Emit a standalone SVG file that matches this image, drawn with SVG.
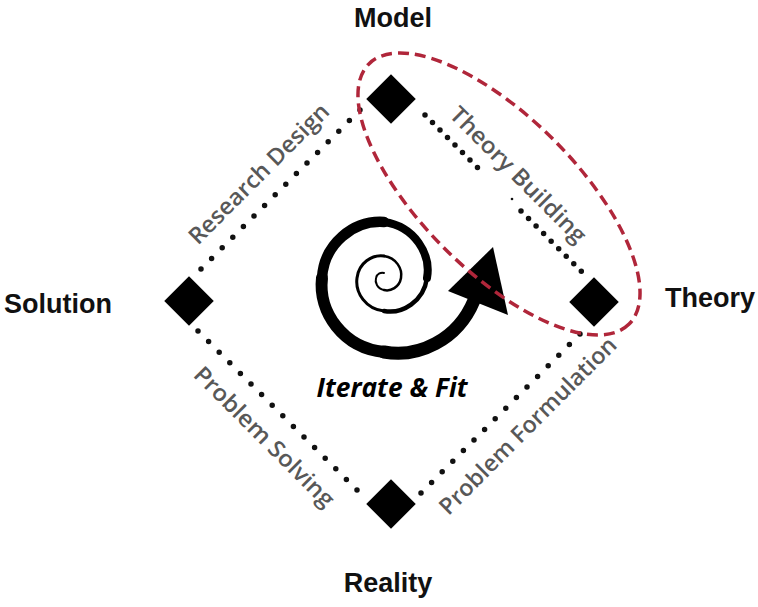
<svg xmlns="http://www.w3.org/2000/svg" width="758" height="607" viewBox="0 0 758 607">
<style>
.node-label{font-family:"Liberation Sans",Arial,sans-serif;font-weight:bold;font-size:27px;fill:#111;text-anchor:middle}
.edge-label{font-family:"Open Sans","Noto Sans",sans-serif;font-size:23px;font-weight:600;fill:#585858;text-anchor:middle;dominant-baseline:central}
.dots{stroke:#111;stroke-width:5.5;stroke-linecap:round;stroke-dasharray:0 14.99;fill:none}
.diamond{fill:#000}
.sp{fill:none;stroke:#000;stroke-linecap:round}
</style>
<rect width="758" height="607" fill="#fff"/>
<g id="connectors">
  <line class="dots" x1="201" y1="269" x2="360" y2="110"/>
  <line class="dots" x1="425" y1="115" x2="478" y2="168" style="stroke-dasharray:0 10.6"/>
  <line class="dots" x1="521" y1="211" x2="585" y2="275" style="stroke-dasharray:0 10.66"/>
  <circle cx="512" cy="199" r="1.3" fill="#111"/>
  <line class="dots" x1="198" y1="331" x2="357" y2="490"/>
  <line class="dots" x1="421" y1="493" x2="580" y2="334"/>
  <text class="edge-label" x="258" y="173" transform="rotate(-45 258 173)" textLength="188" lengthAdjust="spacingAndGlyphs">Research Design</text>
  <text class="edge-label" x="519" y="174" transform="rotate(45 519 174)" textLength="182" lengthAdjust="spacingAndGlyphs">Theory Building</text>
  <text class="edge-label" x="265" y="436" transform="rotate(45 265 436)" textLength="188" lengthAdjust="spacingAndGlyphs">Problem Solving</text>
  <text class="edge-label" x="527" y="425" transform="rotate(-45 527 425)" textLength="240" lengthAdjust="spacingAndGlyphs">Problem Formulation</text>
</g>
<g id="node-model">
  <rect class="diamond" x="-17.5" y="-17.5" width="35" height="35" transform="translate(391 99) rotate(45)"/>
  <text class="node-label" x="393" y="27">Model</text>
</g>
<g id="node-theory">
  <rect class="diamond" x="-17.5" y="-17.5" width="35" height="35" transform="translate(594 302) rotate(45)"/>
  <text class="node-label" x="710" y="307">Theory</text>
</g>
<g id="node-solution">
  <rect class="diamond" x="-17.5" y="-17.5" width="35" height="35" transform="translate(189 301) rotate(45)"/>
  <text class="node-label" x="58" y="313">Solution</text>
</g>
<g id="node-reality">
  <rect class="diamond" x="-17.5" y="-17.5" width="35" height="35" transform="translate(391 504) rotate(45)"/>
  <text class="node-label" x="388" y="592">Reality</text>
</g>
<g id="spiral">
  <path class="sp" stroke-width="2" d="M384,273 C381.25,272 377,273.6 376,278 C374.67,282.4 377.4,288.67 384,290"/>
  <path class="sp" stroke-width="2.5" d="M384,290 C390.6,291.67 399.33,287.35 401,278 C402.67,268.65 396.1,257.67 384,256"/>
  <path class="sp" stroke-width="3" d="M384,256 C371.9,254.33 358.67,263.15 357,278 C355,292.85 365.85,309 384,311"/>
  <path class="sp" stroke-width="4.5" d="M384,311 C402.15,314.33 423.67,301.65 427,278"/>
  <path class="sp" stroke-width="8" d="M427,278 C431.33,254.35 414.8,226.33 384,222"/>
  <path class="sp" stroke-width="10.5" d="M384,222 C353.2,220 324,243.9 322,278"/>
  <path class="sp" stroke-width="12" d="M322,278 C318,312.1 343.3,348 384,352"/>
  <path class="sp" stroke-width="13" stroke-linecap="butt" d="M384,352 C417.97,358.33 457.5,340.4 474,300.5"/>
  <polygon points="493,247 508,315 448,291" fill="#000"/>
  <text x="392" y="397" font-family="'Open Sans','Noto Sans',sans-serif" font-weight="bold" font-style="italic" font-size="26" fill="#000" text-anchor="middle" textLength="151" lengthAdjust="spacingAndGlyphs">Iterate &amp; Fit</text>
</g>
<ellipse cx="499" cy="194" rx="184" ry="77" transform="rotate(45 499 194)" fill="none" stroke="#b0263a" stroke-width="3.5" stroke-dasharray="11 6"/>
</svg>
